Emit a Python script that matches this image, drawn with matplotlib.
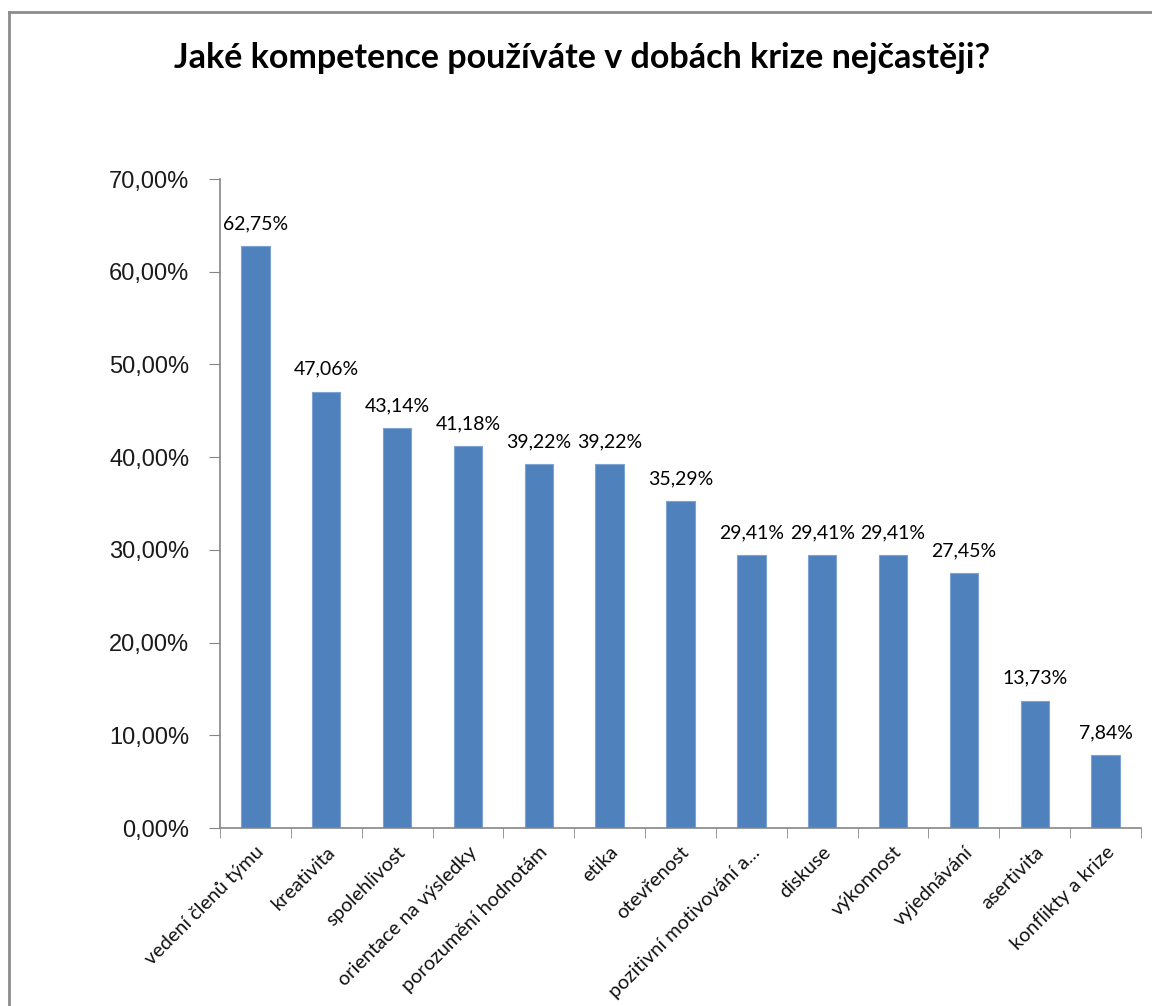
import numpy as np
import matplotlib.pyplot as plt
from matplotlib.lines import Line2D

# Data
categories = ['vedení členů týmu', 'kreativita', 'spolehlivost', 'orientace na výsledky',
              'porozumění hodnotám', 'etika', 'otevřenost', 'pozitivní motivování a...',
              'diskuse', 'výkonnost', 'vyjednávání', 'asertivita', 'konflikty a krize']
values = [62.75, 47.06, 43.14, 41.18, 39.22, 39.22, 35.29, 29.41, 29.41, 29.41, 27.45, 13.73, 7.84]
y_ticks = [0, 10, 20, 30, 40, 50, 60, 70]

title_text = 'Jaké kompetence používáte v dobách krize nejčastěji?'

fig = plt.figure(figsize=(11.52, 10.06), dpi=100)
ax = fig.add_axes([220 / 1152, 1 - 828 / 1006, (1141 - 220) / 1152, (828 - 179) / 1006])

# chart frame like the Excel chart area (only top and left edges are visible)
fx, fy = 8.5 / 1152, 1 - 11.5 / 1006
fig.add_artist(Line2D([fx, 1.01], [fy, fy], transform=fig.transFigure, color='#8c8c8c', lw=2))
fig.add_artist(Line2D([fx, fx], [-0.01, fy], transform=fig.transFigure, color='#8c8c8c', lw=2))

x = np.arange(len(categories))
ax.bar(x, values, width=0.4, color='#4F81BD', edgecolor='#7ea3d3', linewidth=0.8)

for xi, v in zip(x, values):
    ax.annotate(f'{v:.2f}%'.replace('.', ','), (xi, v), xytext=(0, 10),
                textcoords='offset points', ha='center', va='bottom',
                fontsize=14, family='Lato')

ax.set_xlim(-0.5, len(categories) - 0.5)
ax.set_ylim(0, 70)
ax.set_yticks(y_ticks)
ax.set_yticklabels([f'{t:.2f}%'.replace('.', ',') for t in y_ticks],
                   fontsize=17, family='Liberation Sans', color='#1a1a1a')

ax.set_xticks(x)
ax.set_xticklabels(categories, rotation=45, ha='right', rotation_mode='anchor',
                   fontsize=14.3, family='Lato', color='#111111')
ax.set_xticks(np.arange(len(categories) + 1) - 0.5, minor=True)
ax.tick_params(axis='x', which='major', length=0, pad=11)
ax.tick_params(axis='x', which='minor', length=7, color='#868686', direction='out')
ax.tick_params(axis='y', length=8, color='#868686', direction='out', pad=14)

for s in ['top', 'right']:
    ax.spines[s].set_visible(False)
for s in ['left', 'bottom']:
    ax.spines[s].set_color('#868686')
    ax.spines[s].set_linewidth(1.2)

fig.text(582 / 1152, 1 - 58 / 1006, title_text, ha='center', va='center',
         fontsize=24.5, fontweight='bold', family='Lato')

fig.savefig('out.png', dpi=100)
